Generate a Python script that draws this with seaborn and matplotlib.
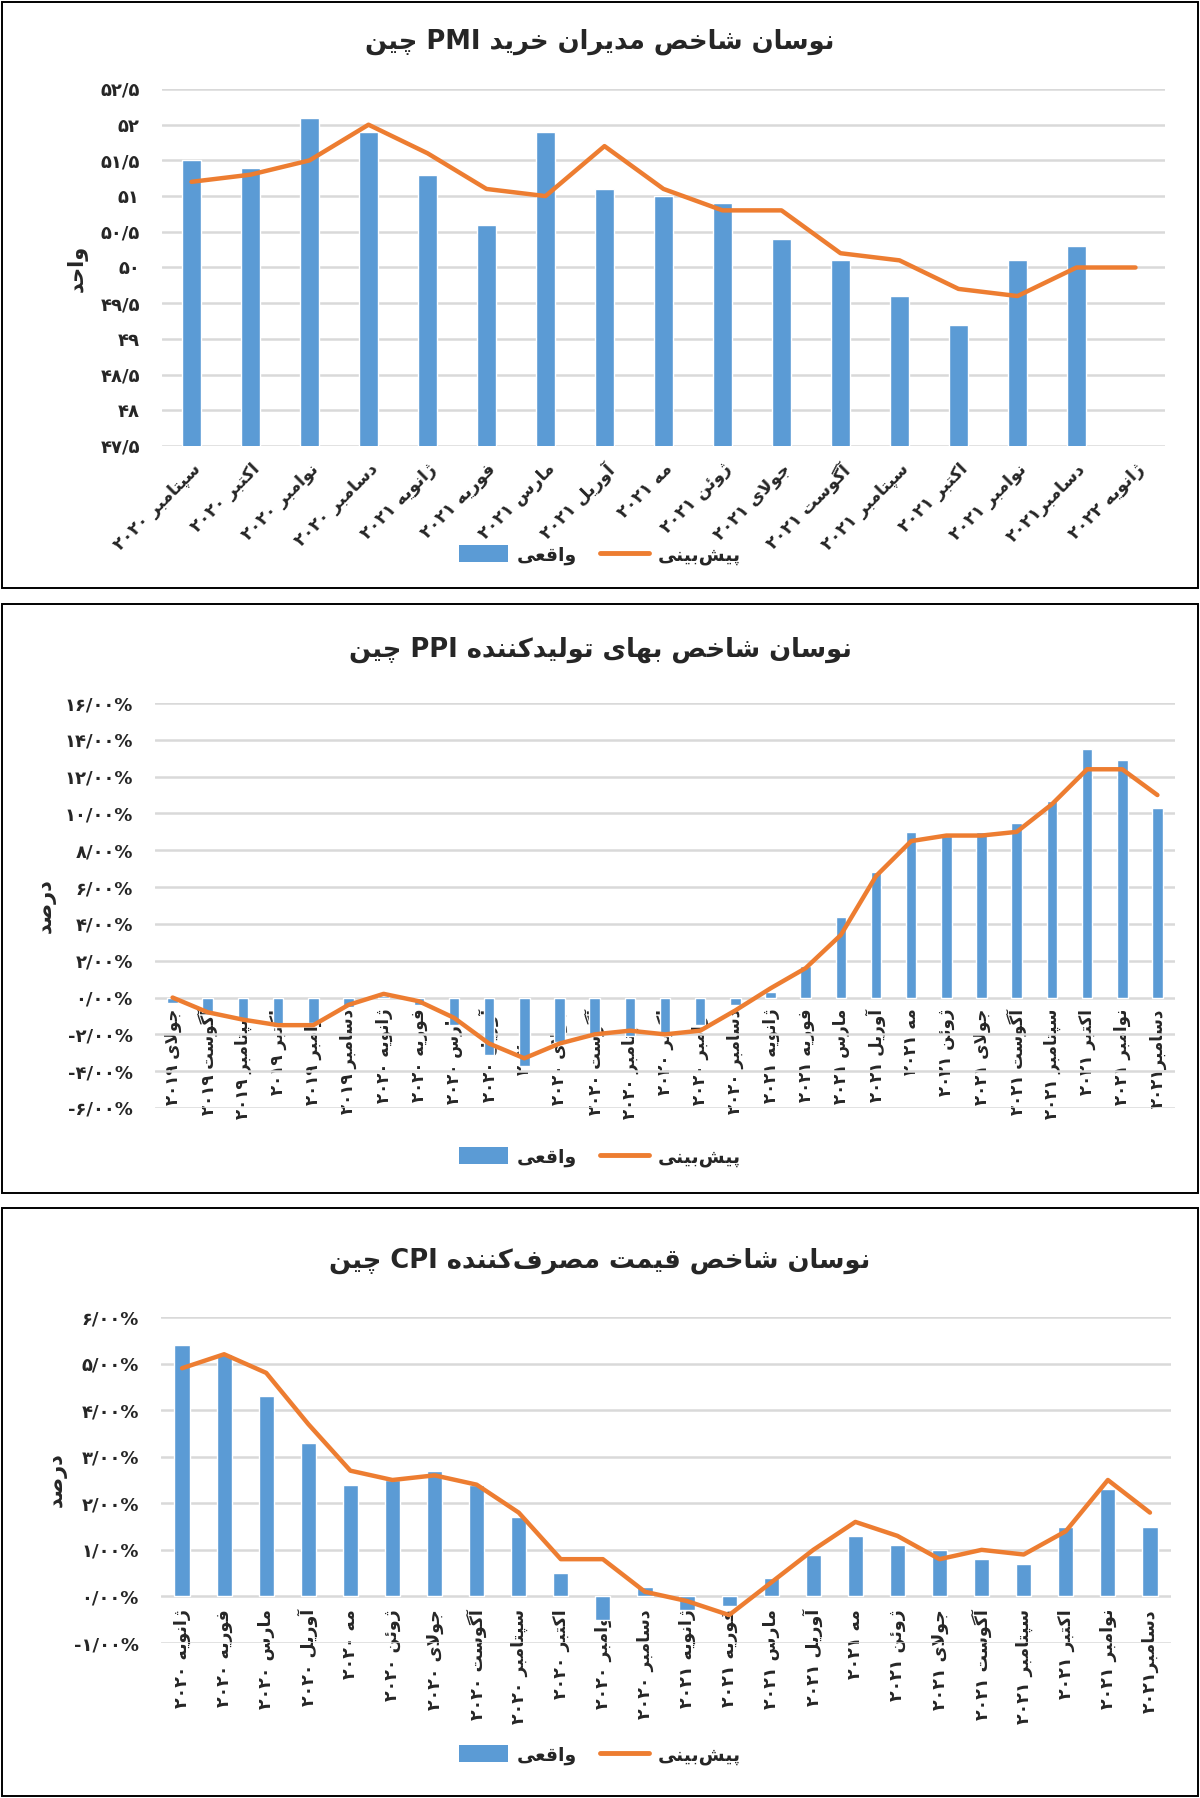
import re
import numpy as np
import pandas as pd
import matplotlib
matplotlib.use("Agg")
import matplotlib.pyplot as plt
import seaborn as sns
from matplotlib import font_manager
from matplotlib.ft2font import FT2Font
from matplotlib.patches import Rectangle, Patch
from matplotlib.lines import Line2D
from matplotlib.ticker import FuncFormatter, MultipleLocator

# ------------------------------------------------------------------ data
pmi_title = "نوسان شاخص مدیران خرید PMI چین"
pmi_ylabel = "واحد"
pmi_months = ["سپتامبر ۲۰۲۰", "اکتبر ۲۰۲۰", "نوامبر ۲۰۲۰", "دسامبر ۲۰۲۰",
              "ژانویه ۲۰۲۱", "فوریه ۲۰۲۱", "مارس ۲۰۲۱", "آوریل ۲۰۲۱", "مه ۲۰۲۱",
              "ژوئن ۲۰۲۱", "جولای ۲۰۲۱", "آگوست ۲۰۲۱", "سپتامبر ۲۰۲۱", "اکتبر ۲۰۲۱",
              "نوامبر ۲۰۲۱", "دسامبر۲۰۲۱", "ژانویه ۲۰۲۲"]
pmi_actual = [51.5, 51.4, 52.1, 51.9, 51.3, 50.6, 51.9, 51.1, 51.0, 50.9,
              50.4, 50.1, 49.6, 49.2, 50.1, 50.3, np.nan]
pmi_forecast = [51.2, 51.3, 51.5, 52.0, 51.6, 51.1, 51.0, 51.7, 51.1, 50.8,
                50.8, 50.2, 50.1, 49.7, 49.6, 50.0, 50.0]

ppi_title = "نوسان شاخص بهای تولیدکننده PPI چین"
ppi_ylabel = "درصد"
ppi_months = ["جولای ۲۰۱۹", "آگوست ۲۰۱۹", "سپتامبر ۲۰۱۹", "اکتبر ۲۰۱۹",
              "نوامبر ۲۰۱۹", "دسامبر ۲۰۱۹", "ژانویه ۲۰۲۰", "فوریه ۲۰۲۰",
              "مارس ۲۰۲۰", "آوریل ۲۰۲۰", "مه ۲۰۲۰", "جولای ۲۰۲۰", "آگوست ۲۰۲۰",
              "سپتامبر ۲۰۲۰", "اکتبر ۲۰۲۰", "نوامبر ۲۰۲۰", "دسامبر ۲۰۲۰",
              "ژانویه ۲۰۲۱", "فوریه ۲۰۲۱", "مارس ۲۰۲۱", "آوریل ۲۰۲۱", "مه ۲۰۲۱",
              "ژوئن ۲۰۲۱", "جولای ۲۰۲۱", "آگوست ۲۰۲۱", "سپتامبر ۲۰۲۱",
              "اکتبر ۲۰۲۱", "نوامبر ۲۰۲۱", "دسامبر۲۰۲۱"]
ppi_actual = [-0.3, -0.8, -1.2, -1.6, -1.4, -0.5, 0.1, -0.4, -1.5, -3.1, -3.7,
              -2.4, -2.0, -2.1, -2.1, -1.5, -0.4, 0.3, 1.7, 4.4, 6.8, 9.0, 8.8,
              9.0, 9.5, 10.7, 13.5, 12.9, 10.3]
ppi_forecast = [0.0, -0.8, -1.2, -1.5, -1.5, -0.4, 0.2, -0.2, -1.1, -2.5, -3.3,
                -2.5, -2.0, -1.8, -2.0, -1.8, -0.7, 0.5, 1.6, 3.4, 6.6, 8.5, 8.8,
                8.8, 9.0, 10.5, 12.4, 12.4, 11.0]

cpi_title = "نوسان شاخص قیمت مصرف\u200cکننده CPI چین"
cpi_ylabel = "درصد"
cpi_months = ["ژانویه ۲۰۲۰", "فوریه ۲۰۲۰", "مارس ۲۰۲۰", "آوریل ۲۰۲۰", "مه ۲۰۲۰",
              "ژوئن ۲۰۲۰", "جولای ۲۰۲۰", "آگوست ۲۰۲۰", "سپتامبر ۲۰۲۰",
              "اکتبر ۲۰۲۰", "نوامبر ۲۰۲۰", "دسامبر ۲۰۲۰", "ژانویه ۲۰۲۱",
              "فوریه ۲۰۲۱", "مارس ۲۰۲۱", "آوریل ۲۰۲۱", "مه ۲۰۲۱", "ژوئن ۲۰۲۱",
              "جولای ۲۰۲۱", "آگوست ۲۰۲۱", "سپتامبر ۲۰۲۱", "اکتبر ۲۰۲۱",
              "نوامبر ۲۰۲۱", "دسامبر۲۰۲۱"]
cpi_actual = [5.4, 5.2, 4.3, 3.3, 2.4, 2.5, 2.7, 2.4, 1.7, 0.5, -0.5, 0.2,
              -0.3, -0.2, 0.4, 0.9, 1.3, 1.1, 1.0, 0.8, 0.7, 1.5, 2.3, 1.5]
cpi_forecast = [4.9, 5.2, 4.8, 3.7, 2.7, 2.5, 2.6, 2.4, 1.8, 0.8, 0.8, 0.1,
                -0.1, -0.4, 0.3, 1.0, 1.6, 1.3, 0.8, 1.0, 0.9, 1.4, 2.5, 1.8]

legend_actual = "واقعی"
legend_forecast = "پیش\u200cبینی"

BLUE = "#5B9BD5"
ORANGE = "#ED7D31"
GRID = "#D9D9D9"

# ------------------------------------------------------------------ Persian shaping
FORMS = {  # isolated, final, initial, medial
    'ا': ('\uFE8D', '\uFE8E', None, None),
    'آ': ('\uFE81', '\uFE82', None, None),
    'ب': ('\uFE8F', '\uFE90', '\uFE91', '\uFE92'),
    'پ': ('\uFB56', '\uFB57', '\uFB58', '\uFB59'),
    'ت': ('\uFE95', '\uFE96', '\uFE97', '\uFE98'),
    'ث': ('\uFE99', '\uFE9A', '\uFE9B', '\uFE9C'),
    'ج': ('\uFE9D', '\uFE9E', '\uFE9F', '\uFEA0'),
    'چ': ('\uFB7A', '\uFB7B', '\uFB7C', '\uFB7D'),
    'ح': ('\uFEA1', '\uFEA2', '\uFEA3', '\uFEA4'),
    'خ': ('\uFEA5', '\uFEA6', '\uFEA7', '\uFEA8'),
    'د': ('\uFEA9', '\uFEAA', None, None),
    'ذ': ('\uFEAB', '\uFEAC', None, None),
    'ر': ('\uFEAD', '\uFEAE', None, None),
    'ز': ('\uFEAF', '\uFEB0', None, None),
    'ژ': ('\uFB8A', '\uFB8B', None, None),
    'س': ('\uFEB1', '\uFEB2', '\uFEB3', '\uFEB4'),
    'ش': ('\uFEB5', '\uFEB6', '\uFEB7', '\uFEB8'),
    'ص': ('\uFEB9', '\uFEBA', '\uFEBB', '\uFEBC'),
    'ض': ('\uFEBD', '\uFEBE', '\uFEBF', '\uFEC0'),
    'ط': ('\uFEC1', '\uFEC2', '\uFEC3', '\uFEC4'),
    'ظ': ('\uFEC5', '\uFEC6', '\uFEC7', '\uFEC8'),
    'ع': ('\uFEC9', '\uFECA', '\uFECB', '\uFECC'),
    'غ': ('\uFECD', '\uFECE', '\uFECF', '\uFED0'),
    'ف': ('\uFED1', '\uFED2', '\uFED3', '\uFED4'),
    'ق': ('\uFED5', '\uFED6', '\uFED7', '\uFED8'),
    'ک': ('\uFB8E', '\uFB8F', '\uFB90', '\uFB91'),
    'گ': ('\uFB92', '\uFB93', '\uFB94', '\uFB95'),
    'ل': ('\uFEDD', '\uFEDE', '\uFEDF', '\uFEE0'),
    'م': ('\uFEE1', '\uFEE2', '\uFEE3', '\uFEE4'),
    'ن': ('\uFEE5', '\uFEE6', '\uFEE7', '\uFEE8'),
    'و': ('\uFEED', '\uFEEE', None, None),
    'ه': ('\uFEE9', '\uFEEA', '\uFEEB', '\uFEEC'),
    'ی': ('\uFBFC', '\uFBFD', '\uFBFE', '\uFBFF'),
    'ئ': ('\uFE89', '\uFE8A', '\uFE8B', '\uFE8C'),
}
LAM_ALEF = {'ا': ('\uFEFB', '\uFEFC'), 'آ': ('\uFEF5', '\uFEF6')}
LTR = r'A-Za-z0-9\u06F0-\u06F9/%.\-'


def _joins_next(c):
    f = FORMS.get(c)
    return f is not None and f[2] is not None


def shape(text):
    chars = list(text)
    n = len(chars)
    res = []
    i = 0
    while i < n:
        c = chars[i]
        if c == '\u200c':
            i += 1
            continue
        if c not in FORMS:
            res.append(c)
            i += 1
            continue
        prev = chars[i - 1] if i > 0 else ''
        nxt = chars[i + 1] if i + 1 < n else ''
        pj = _joins_next(prev)
        if c == 'ل' and nxt in LAM_ALEF:
            res.append(LAM_ALEF[nxt][1] if pj else LAM_ALEF[nxt][0])
            i += 2
            continue
        nj = _joins_next(c) and nxt in FORMS
        f = FORMS[c]
        if pj and nj:
            g = f[3]
        elif pj:
            g = f[1]
        elif nj:
            g = f[2]
        else:
            g = f[0]
        res.append(g)
        i += 1
    shaped = ''.join(res)
    runs = re.findall('[%s]+|[^%s]+' % (LTR, LTR), shaped)
    out = []
    for r in reversed(runs):
        if re.match('[%s]' % LTR, r):
            out.append(r)
        else:
            out.append(r[::-1])
    return ''.join(out)


FA = str.maketrans('0123456789', '۰۱۲۳۴۵۶۷۸۹')


def fa(s):
    return s.translate(FA)


# ------------------------------------------------------------------ font choice
all_text = ''.join([pmi_title, ppi_title, cpi_title, pmi_ylabel, ppi_ylabel,
                    legend_actual, legend_forecast] + pmi_months + ppi_months + cpi_months)
needed = set(shape(all_text)) | set('۰۱۲۳۴۵۶۷۸۹/%-')
needed.discard(' ')


def pick_font():
    for fam in ['DejaVu Sans', 'Noto Sans', 'Liberation Sans', 'Open Sans', 'Roboto', 'Lato', 'Inter']:
        for w in ['bold', 'normal']:
            try:
                path = font_manager.findfont(font_manager.FontProperties(family=fam, weight=w),
                                             fallback_to_default=False)
                cmap = FT2Font(path).get_charmap()
            except Exception:
                continue
            if all(ord(c) in cmap for c in needed):
                return fam, w
    return 'DejaVu Sans', 'normal'


FONT, WEIGHT = pick_font()

sns.set_style("white")
plt.rcParams['font.family'] = [FONT, 'DejaVu Sans']
plt.rcParams['font.weight'] = WEIGHT

W, H = 1200, 1798
fig = plt.figure(figsize=(W / 100, H / 100), dpi=100)


def fx(px):
    return px / W


def fy(py):
    return 1 - py / H


def add_axes(left, right, top, bottom):
    return fig.add_axes([fx(left), fy(bottom), fx(right - left), (bottom - top) / H])


def pmi_fmt(v, pos):
    s = ('%.1f' % v)
    if s.endswith('.0'):
        s = s[:-2]
    return fa(s.replace('.', '/'))


def pct_fmt(v, pos):
    if abs(v) < 1e-9:
        v = 0.0
    return fa(('%.2f%%' % v).replace('.', '/'))


def draw_panel(ax, months, actual, forecast, ylim, step, fmt, bar_w, rot, xfs, xpad, zero_axis):
    n = len(months)
    df = pd.DataFrame({'month': months, 'actual': actual, 'forecast': forecast,
                       'pos': np.arange(n)})
    sns.barplot(data=df, x='month', y='actual', order=months, color=BLUE,
                saturation=1, width=bar_w, errorbar=None, ax=ax, zorder=2)
    sns.lineplot(data=df, x='pos', y='forecast', color=ORANGE, lw=3.2, sort=False,
                 ax=ax, zorder=3)
    ax.set_ylim(*ylim)
    ax.set_xlim(-0.5, n - 0.5)
    ax.yaxis.set_major_locator(MultipleLocator(step))
    ax.yaxis.set_major_formatter(FuncFormatter(fmt))
    ax.yaxis.grid(True, color=GRID, lw=1.8)
    ax.xaxis.grid(False)
    ax.set_axisbelow(True)
    for s in ax.spines.values():
        s.set_visible(False)
    if zero_axis:
        ax.spines['bottom'].set_position(('data', 0))
    ax.set_xticks(np.arange(n))
    labels = [shape(m) for m in months]
    if rot == 45:
        ax.set_xticklabels(labels, rotation=45, ha='right', va='top',
                           rotation_mode='anchor', fontsize=xfs, fontweight=WEIGHT)
    else:
        ax.set_xticklabels(labels, rotation=90, ha='center', va='top',
                           fontsize=xfs, fontweight=WEIGHT)
    ax.set_xlabel('')
    ax.set_ylabel('')
    ax.tick_params(axis='both', length=0)
    ax.tick_params(axis='x', pad=xpad)
    ax.tick_params(axis='y', pad=16, labelsize=13)
    for t in ax.get_yticklabels():
        t.set_fontweight(WEIGHT)


def panel_frame(top, bottom):
    fig.add_artist(Rectangle((fx(2), fy(bottom)), fx(1196), (bottom - top) / H,
                             transform=fig.transFigure, fill=False, edgecolor='black',
                             lw=1.4, zorder=0))


def legend(y):
    handles = [Patch(facecolor=BLUE, edgecolor='none'),
               Line2D([0], [0], color=ORANGE, lw=3.5)]
    fig.legend(handles, [shape(legend_actual), shape(legend_forecast)], ncol=2,
               loc='center', bbox_to_anchor=(fx(600), fy(y)), frameon=False,
               prop={'size': 13.5, 'weight': WEIGHT}, handlelength=2.6,
               handleheight=1.0, columnspacing=1.2, handletextpad=0.5)


# ---- panel 1: PMI
panel_frame(2, 588)
ax1 = add_axes(162, 1165, 89, 446)
draw_panel(ax1, pmi_months, pmi_actual, pmi_forecast, (47.5, 52.5), 0.5, pmi_fmt,
           0.33, 45, 12.5, 10, False)
fig.text(fx(600), fy(42), shape(pmi_title), ha='center', va='center', fontsize=18.5,
         fontweight=WEIGHT)
fig.text(fx(77), fy(268), shape(pmi_ylabel), ha='center', va='center', rotation=90,
         fontsize=15, fontweight=WEIGHT)
legend(555)

# ---- panel 2: PPI
panel_frame(604, 1193)
ax2 = add_axes(155, 1175, 703, 1108)
draw_panel(ax2, ppi_months, ppi_actual, ppi_forecast, (-6, 16), 2, pct_fmt,
           0.3, 90, 12, 8, True)
fig.text(fx(600), fy(650), shape(ppi_title), ha='center', va='center', fontsize=18.5,
         fontweight=WEIGHT)
fig.text(fx(46), fy(906), shape(ppi_ylabel), ha='center', va='center', rotation=90,
         fontsize=15, fontweight=WEIGHT)
legend(1157)

# ---- panel 3: CPI
panel_frame(1208, 1796)
ax3 = add_axes(161, 1171, 1317, 1643)
draw_panel(ax3, cpi_months, cpi_actual, cpi_forecast, (-1, 6), 1, pct_fmt,
           0.36, 90, 12.5, 9, True)
fig.text(fx(600), fy(1261), shape(cpi_title), ha='center', va='center', fontsize=18.5,
         fontweight=WEIGHT)
fig.text(fx(57), fy(1480), shape(cpi_ylabel), ha='center', va='center', rotation=90,
         fontsize=15, fontweight=WEIGHT)
legend(1755)

fig.savefig("out.png", dpi=100)
